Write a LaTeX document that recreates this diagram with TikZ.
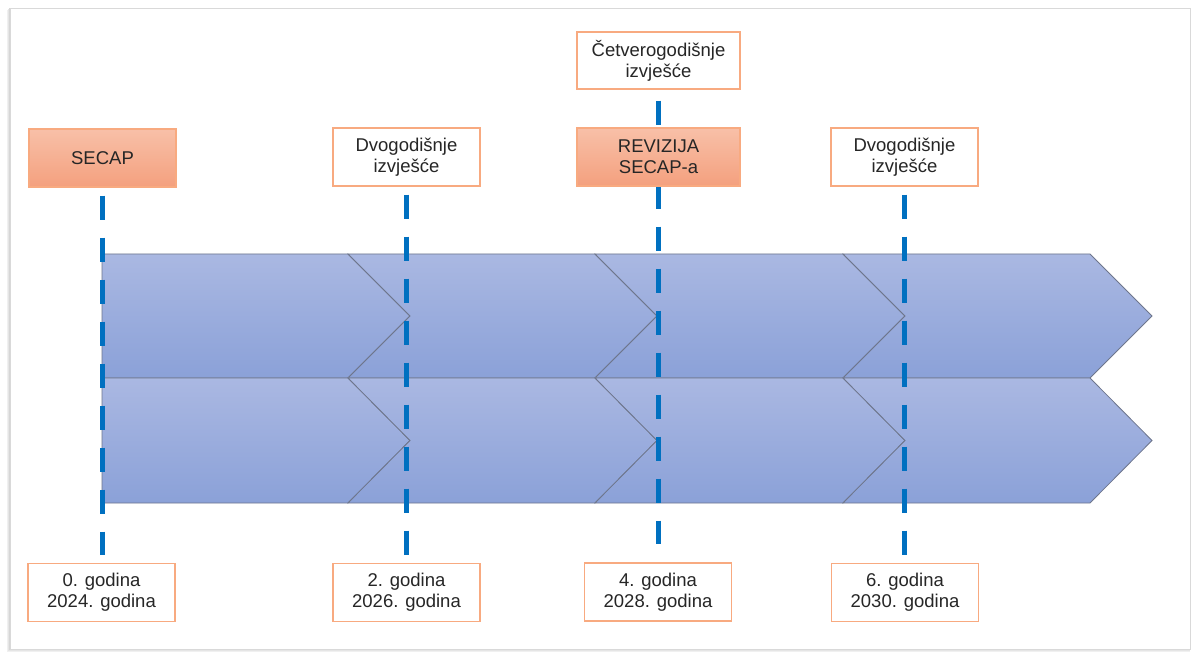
\documentclass[tikz,border=0pt]{standalone}
\usepackage{fontspec}
\setmainfont{Liberation Sans}
\usetikzlibrary{shadings}
\definecolor{chevtop}{RGB}{170,184,226}
\definecolor{chevbot}{RGB}{139,161,216}
\definecolor{chevedge}{RGB}{110,118,140}
\definecolor{boxedge}{RGB}{248,170,128}
\definecolor{boxtop}{RGB}{248,192,168}
\definecolor{boxbot}{RGB}{244,160,126}
\definecolor{dashblue}{RGB}{0,112,192}
\definecolor{txt}{RGB}{38,38,38}
\tikzset{
  chev/.style={draw=chevedge, line width=0.8pt, top color=chevtop, bottom color=chevbot, line join=miter},
  plainbox/.style={draw=boxedge, line width=1.2pt, fill=white, minimum width=147pt, minimum height=58pt, inner sep=0pt, align=center, text=txt, font=\fontsize{18.5}{21}\selectfont},
  hotbox/.style={plainbox, top color=boxtop, bottom color=boxbot},
  timeline/.style={draw=dashblue, line width=5pt, dash pattern=on 24pt off 18pt}
}
\begin{document}
\begin{tikzpicture}[x=1pt,y=-1pt]
\useasboundingbox (0,0) rectangle (1192,652);
% frame with soft shadow
\fill[black!6] (7,10) rectangle (1190,652);
\fill[black!10] (8,9) rectangle (1190,651);
\fill[black!16] (9,8.5) rectangle (1190,650);
\fill[white] (10,8) rectangle (1190,649);
\draw[black!15, line width=0.6pt] (10,8) rectangle (1190,649);
% chevrons, two rows
\foreach \ya/\yb in {254/378, 378/503}{
  \pgfmathsetmacro{\ym}{(\ya+\yb)/2}
  \path[chev] (102,\ya) -- (348,\ya) -- (410,\ym) -- (348,\yb) -- (102,\yb) -- cycle;
  \path[chev] (348,\ya) -- (595,\ya) -- (657,\ym) -- (595,\yb) -- (348,\yb) -- (410,\ym) -- cycle;
  \path[chev] (595,\ya) -- (843,\ya) -- (905,\ym) -- (843,\yb) -- (595,\yb) -- (657,\ym) -- cycle;
  \path[chev] (843,\ya) -- (1090,\ya) -- (1152,\ym) -- (1090,\yb) -- (843,\yb) -- (905,\ym) -- cycle;
}
% nodes (boxes)
\path (102.5,158) node[hotbox] (secap) {SECAP};
\path (406.5,157) node[plainbox] (dvog1) {Dvogodišnje\\izvješće};
\path (658.5,60.5) node[plainbox, minimum width=163pt, minimum height=57pt] (cetv) {Četverogodišnje\\izvješće};
\path (904.5,157) node[plainbox] (dvog2) {Dvogodišnje\\izvješće};
\path (101.5,592.5) node[plainbox] (y0) {0. godina\\2024. godina};
\path (406.5,592.5) node[plainbox] (y2) {2. godina\\2026. godina};
\path (658,592) node[plainbox] (y4) {4. godina\\2028. godina};
\path (905,592.5) node[plainbox] (y6) {6. godina\\2030. godina};
% dashed timelines
\draw[timeline] ([yshift=-8pt]secap.south) -- ([yshift=8pt]secap.south |- y0.north);
\draw[timeline] ([yshift=-8pt]dvog1.south) -- ([yshift=8pt]dvog1.south |- y2.north);
\draw[timeline] ([yshift=-8pt]dvog2.south) -- ([yshift=8pt]dvog2.south |- y6.north);
\draw[timeline] ([yshift=-11pt]cetv.south) -- ([yshift=18pt]cetv.south |- y4.north);
% revision box lies over its timeline
\path (658.5,157) node[hotbox, minimum width=163pt] (rev) {REVIZIJA\\SECAP-a};
\end{tikzpicture}
\end{document}
